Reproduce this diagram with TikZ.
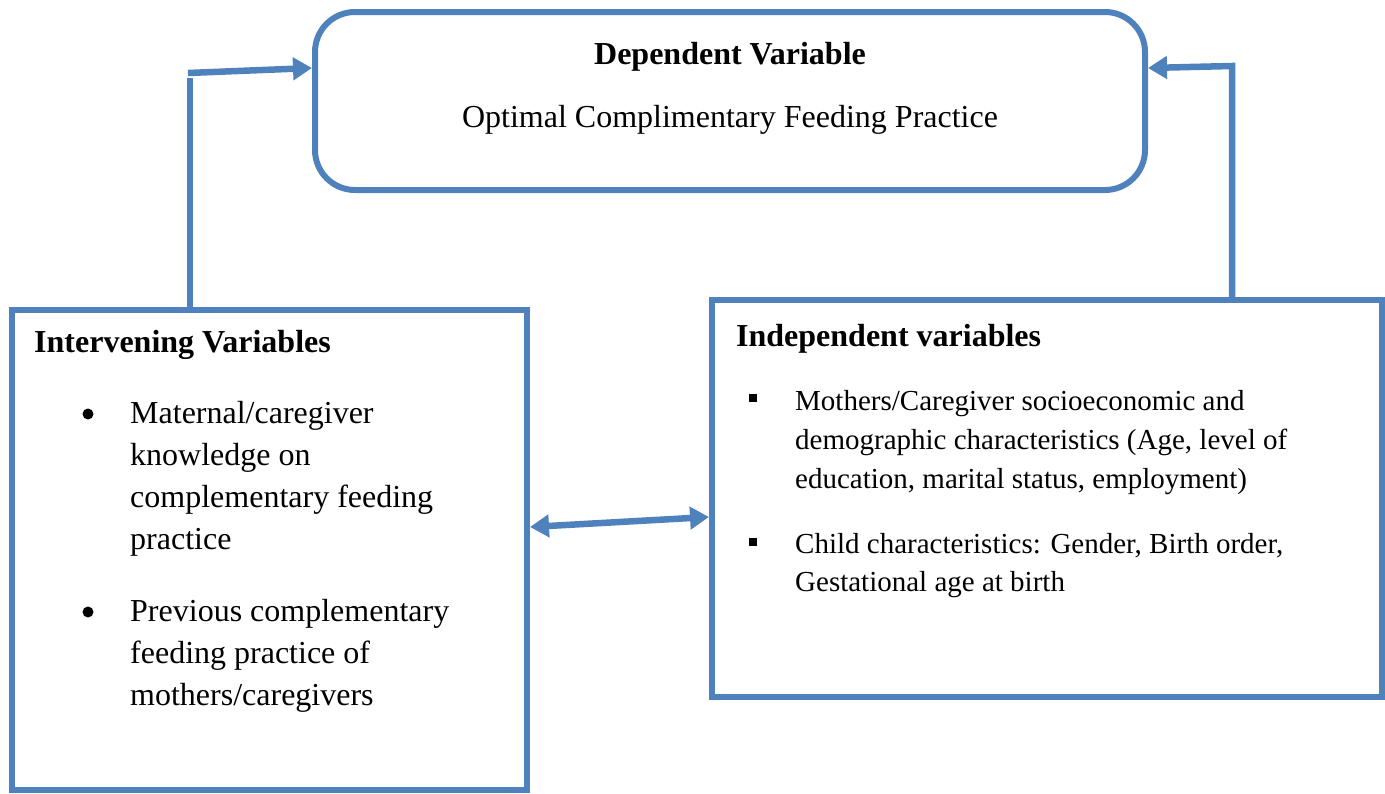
\documentclass[tikz,border=0pt]{standalone}
\usepackage{fontspec}
\setmainfont{Liberation Serif}
\usetikzlibrary{arrows.meta}
\definecolor{boxblue}{RGB}{79,129,189}
\tikzset{
  box/.style={draw=boxblue, line width=6pt, minimum width=#1},
  conn/.style={draw=boxblue, line width=6.5pt},
  tip/.style={-{Triangle[length=19pt,width=22pt]}},
  dtip/.style={{Triangle[length=19pt,width=22pt]}-{Triangle[length=19pt,width=22pt]}},
  txt/.style={anchor=base west, inner sep=0pt, font=\fontsize{32}{38}\selectfont},
  stxt/.style={txt, font=\fontsize{29}{35}\selectfont},
  btxt/.style={txt, font=\fontsize{32}{38}\selectfont\bfseries},
}
\begin{document}
\begin{tikzpicture}[x=1pt,y=-1pt]
\useasboundingbox (0,0) rectangle (1385,793);
% boxes
\node[box=830pt, minimum height=178pt, rounded corners=40pt] (dep) at (730,101) {};
\node[box=515pt, minimum height=480pt] (inter) at (269.5,550) {};
\node[box=670pt, minimum height=397pt] (indep) at (1047,498.5) {};
% dependent text
\node[btxt, anchor=base] (dt) at (730,64) {Dependent Variable};
\node[txt, anchor=base] (ds) at (730,127) {Optimal Complimentary Feeding Practice};
% intervening
\node[btxt] (it) at (34,352) {Intervening Variables};
\fill (88,414) circle (5.5pt);
\node[txt] (i1) at (130,423) {Maternal/caregiver};
\node[txt] (i2) at (130,465) {knowledge on};
\node[txt] (i3) at (130,507) {complementary feeding};
\node[txt] (i4) at (130,549) {practice};
\fill (88,612) circle (5.5pt);
\node[txt] (i5) at (130,621) {Previous complementary};
\node[txt] (i6) at (130,663) {feeding practice of};
\node[txt] (i7) at (130,705) {mothers/caregivers};
% independent
\node[btxt] (nt) at (736,346) {Independent variables};
\fill (749,394) rectangle (757,402);
\node[stxt] (n1) at (795,410) {Mothers/Caregiver socioeconomic and};
\node[stxt] (n2) at (795,449) {demographic characteristics (Age, level of};
\node[stxt] (n3) at (795,488) {education, marital status, employment)};
\fill (749,538) rectangle (757,546);
\node[stxt] (n4) at (795,553) {Child characteristics: Gender, Birth order,};
\node[stxt] (n5) at (795,591) {Gestational age at birth};
% connectors
\coordinate (la) at (inter.north -| 190,0);
\coordinate (lb) at (190,78);
\coordinate (lc) at (188,73);
\coordinate (ra) at (indep.north -| 1232,0);
\coordinate (rb) at (1232,66);
\draw[conn] (la) -- (lb);
\draw[conn, tip] (lc) -- (dep.west |- 0,68);
\draw[conn, tip, line join=miter] (ra) -- (rb) -- (dep.east |- 0,68);
\draw[conn, dtip] (inter.east |- 0,527) -- (indep.west |- 0,517);
\end{tikzpicture}
\end{document}
